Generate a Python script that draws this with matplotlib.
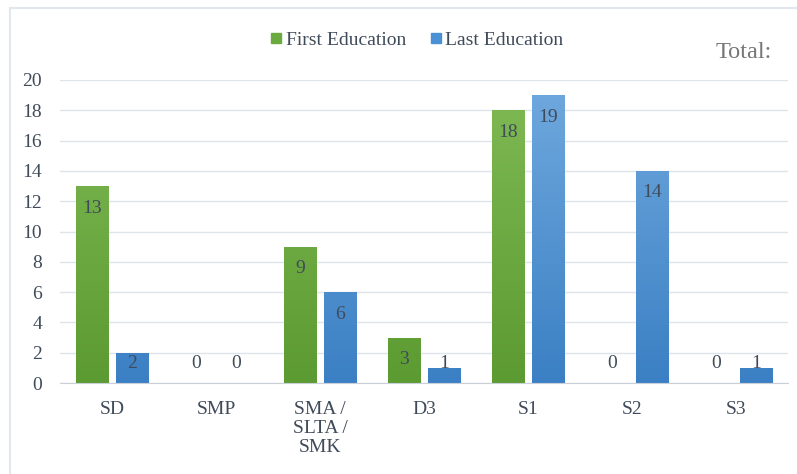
import matplotlib
matplotlib.use('Agg')
import matplotlib.pyplot as plt
import numpy as np
from matplotlib.colors import LinearSegmentedColormap
from matplotlib.lines import Line2D

categories = ['SD', 'SMP', 'SMA /\nSLTA /\nSMK', 'D3', 'S1', 'S2', 'S3']
first_edu = [13, 0, 9, 3, 18, 0, 0]
last_edu = [2, 0, 6, 1, 19, 14, 1]
yticks = [0, 2, 4, 6, 8, 10, 12, 14, 16, 18, 20]

plt.rcParams['font.family'] = ['Liberation Serif', 'DejaVu Serif']
txt = '#404b5a'
fs = 14

fig = plt.figure(figsize=(7.97, 4.74), dpi=100)
ax = fig.add_axes([60/797, 91/474, 728/797, 303/474])

green = LinearSegmentedColormap.from_list('g', ['#5c9b31', '#80ba55'])
blue = LinearSegmentedColormap.from_list('b', ['#3b80c4', '#70a9de'])

x = np.arange(len(categories))
w = 0.31
off = 0.19

def draw(xs, vals, cmap, edge, label):
    bars = ax.bar(xs, vals, w, color=cmap(0.5), edgecolor=edge, linewidth=0.6, label=label, zorder=2)
    grad = np.linspace(0, 1, 256).reshape(-1, 1)
    for b, v in zip(bars, vals):
        if v > 0:
            im = ax.imshow(grad, cmap=cmap, aspect='auto', origin='lower',
                           extent=[b.get_x(), b.get_x() + b.get_width(), 0, 20], zorder=2.5)
            im.set_clip_path(b)
        # inside-end label, pushed up for short bars
        ly = max(v - 1.45, 1.3)
        ax.text(b.get_x() + b.get_width()/2, ly, str(v), ha='center', va='center',
                fontsize=fs, color=txt, zorder=4)
    return bars

draw(x - off, first_edu, green, '#8cc262', 'First Education')
draw(x + off, last_edu, blue, '#7fb3e3', 'Last Education')

ax.set_xlim(-0.5, len(categories) - 0.5)
ax.set_ylim(0, 20)
ax.set_yticks(yticks)
ax.set_xticks(x)
ax.set_xticklabels(categories, fontsize=fs, color=txt, linespacing=1.15)
ax.tick_params(axis='both', length=0, labelsize=fs, labelcolor=txt)
ax.tick_params(axis='x', pad=13)
ax.tick_params(axis='y', pad=13)
ax.yaxis.grid(True, color='#dfe3ea', linewidth=1, zorder=0)
ax.set_axisbelow(True)
for s in ['top', 'right', 'left']:
    ax.spines[s].set_visible(False)
ax.spines['bottom'].set_color('#c9d0da')

handles = [Line2D([], [], marker='s', linestyle='', color='#6aaa3e', markersize=6.5),
           Line2D([], [], marker='s', linestyle='', color='#4a90d4', markersize=6.5)]
fig.legend(handles, ['First Education', 'Last Education'], loc='center',
           bbox_to_anchor=(415/797, 1 - 40/474), ncol=2, frameon=False,
           fontsize=fs, labelcolor=txt, handletextpad=0.0, columnspacing=1.0,
           handlelength=1.0)

fig.text(772/797, 1 - 53/474, 'Total:', ha='right', va='center', fontsize=17.5, color='#777777')

fig.add_artist(Line2D([10/797, 10/797], [0, 1 - 8/474], color='#e3e7ee', linewidth=1.5))
fig.add_artist(Line2D([10/797, 1], [1 - 8/474, 1 - 8/474], color='#e3e7ee', linewidth=1.5))

fig.savefig('out.png', dpi=100)
